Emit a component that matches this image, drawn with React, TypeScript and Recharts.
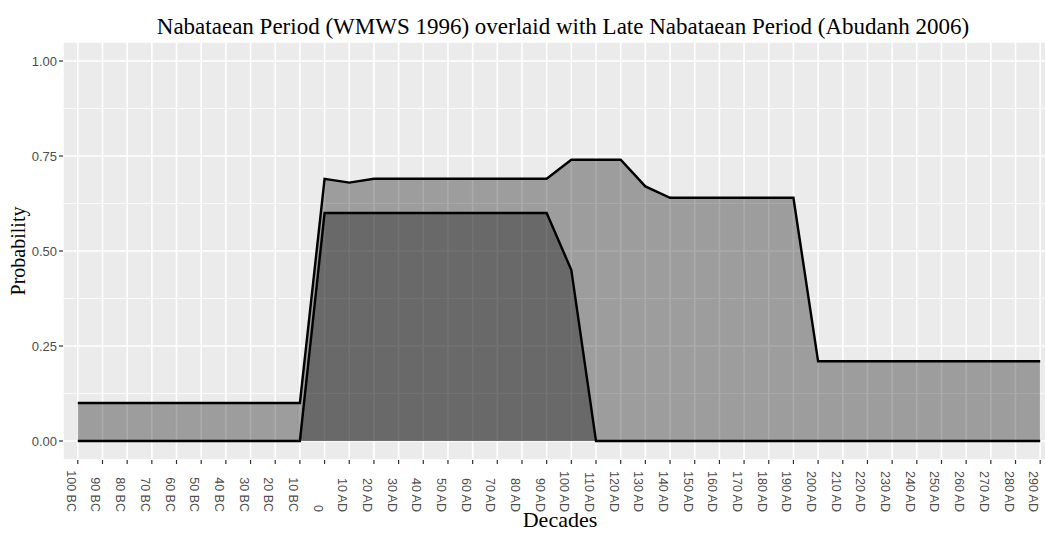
import React from "react";
import {
  ComposedChart,
  Area,
  XAxis,
  YAxis,
  CartesianGrid,
} from "recharts";

const decades = [
  "100 BC", "90 BC", "80 BC", "70 BC", "60 BC", "50 BC", "40 BC", "30 BC", "20 BC", "10 BC",
  "0",
  "10 AD", "20 AD", "30 AD", "40 AD", "50 AD", "60 AD", "70 AD", "80 AD", "90 AD",
  "100 AD", "110 AD", "120 AD", "130 AD", "140 AD", "150 AD", "160 AD", "170 AD", "180 AD", "190 AD",
  "200 AD", "210 AD", "220 AD", "230 AD", "240 AD", "250 AD", "260 AD", "270 AD", "280 AD", "290 AD",
];

// Nabataean Period (WMWS 1996)
const wmws1996 = [
  0.1, 0.1, 0.1, 0.1, 0.1, 0.1, 0.1, 0.1, 0.1, 0.1,
  0.69,
  0.68, 0.69, 0.69, 0.69, 0.69, 0.69, 0.69, 0.69, 0.69,
  0.74, 0.74, 0.74, 0.67, 0.64, 0.64, 0.64, 0.64, 0.64, 0.64,
  0.21, 0.21, 0.21, 0.21, 0.21, 0.21, 0.21, 0.21, 0.21, 0.21,
];

// Late Nabataean Period (Abudanh 2006)
const abudanh2006 = [
  0, 0, 0, 0, 0, 0, 0, 0, 0, 0,
  0.6,
  0.6, 0.6, 0.6, 0.6, 0.6, 0.6, 0.6, 0.6, 0.6,
  0.45, 0, 0, 0, 0, 0, 0, 0, 0, 0,
  0, 0, 0, 0, 0, 0, 0, 0, 0, 0,
];

const yTicks = [0, 0.25, 0.5, 0.75, 1];
const yMinor = [0.125, 0.375, 0.625, 0.875];

const data = decades.map((d, i) => ({
  i,
  decade: d,
  wmws: wmws1996[i],
  abudanh: abudanh2006[i],
}));

const xTicks = decades.map((_, i) => i);

const serif = "'Liberation Serif', 'DejaVu Serif', serif";
const sans = "'Liberation Sans', Arial, sans-serif";

function DecadeTick(props: any) {
  const { x, payload } = props;
  const px = x - 11;
  const py = 512;
  return (
    <text
      x={px}
      y={py}
      transform={`rotate(90, ${px}, ${py})`}
      textAnchor="end"
      fontSize={12.5}
      fontFamily={sans}
      fill="#4d4d4d"
    >
      {decades[payload.value]}
    </text>
  );
}

export default function App() {
  return (
    <div
      style={{
        position: "absolute",
        left: 0,
        top: 0,
        width: 1045,
        height: 533,
        overflow: "hidden",
        background: "#fff",
      }}
    >
      <ComposedChart
        width={1070}
        height={533}
        data={data}
        margin={{ top: 42, right: 15, bottom: 0, left: 0 }}
      >
        <CartesianGrid
          fill="#ebebeb"
          stroke="#ffffff"
          strokeWidth={1.6}
          strokeOpacity={1}
        />
        <CartesianGrid
          yAxisId="minor"
          vertical={false}
          stroke="#ffffff"
          strokeWidth={0.8}
        />
        <XAxis
          dataKey="i"
          type="number"
          domain={[-0.6, 39.6]}
          ticks={xTicks}
          interval={0}
          height={73}
          axisLine={false}
          tickLine={{ stroke: "#333", strokeWidth: 1.2 }}
          tickSize={4}
          tick={<DecadeTick />}
          allowDataOverflow
        />
        <YAxis
          domain={[-0.05, 1.05]}
          ticks={yTicks}
          width={63}
          axisLine={false}
          tickLine={{ stroke: "#333", strokeWidth: 1.2 }}
          tickSize={4}
          tickFormatter={(v: number) => v.toFixed(2)}
          tick={{ fontSize: 13, fontFamily: sans, fill: "#4d4d4d" }}
          allowDataOverflow
        />
        <YAxis
          yAxisId="minor"
          domain={[-0.05, 1.05]}
          ticks={yMinor}
          hide
          allowDataOverflow
        />
        <Area
          type="linear"
          dataKey="wmws"
          baseValue={0}
          fill="#000000"
          fillOpacity={0.33}
          stroke="#000000"
          strokeWidth={2.4}
          isAnimationActive={false}
          dot={false}
          activeDot={false}
        />
        <Area
          type="linear"
          dataKey="abudanh"
          baseValue={0}
          fill="#000000"
          fillOpacity={0.33}
          stroke="#000000"
          strokeWidth={2.4}
          isAnimationActive={false}
          dot={false}
          activeDot={false}
        />
      </ComposedChart>
      <div
        style={{
          position: "absolute",
          left: 0,
          top: 13,
          width: 1126,
          textAlign: "center",
          fontFamily: serif,
          fontSize: 23,
          color: "#000",
          lineHeight: "28px",
          whiteSpace: "nowrap",
        }}
      >
        Nabataean Period (WMWS 1996) overlaid with Late Nabataean Period (Abudanh 2006)
      </div>
      <div
        style={{
          position: "absolute",
          left: 18 - 60,
          top: 251 - 13,
          width: 120,
          textAlign: "center",
          fontFamily: serif,
          fontSize: 20,
          lineHeight: "26px",
          transform: "rotate(-90deg)",
          color: "#000",
        }}
      >
        Probability
      </div>
      <div
        style={{
          position: "absolute",
          left: 0,
          top: 507,
          width: 1120,
          textAlign: "center",
          fontFamily: serif,
          fontSize: 22,
          lineHeight: "26px",
          color: "#000",
        }}
      >
        Decades
      </div>
    </div>
  );
}
